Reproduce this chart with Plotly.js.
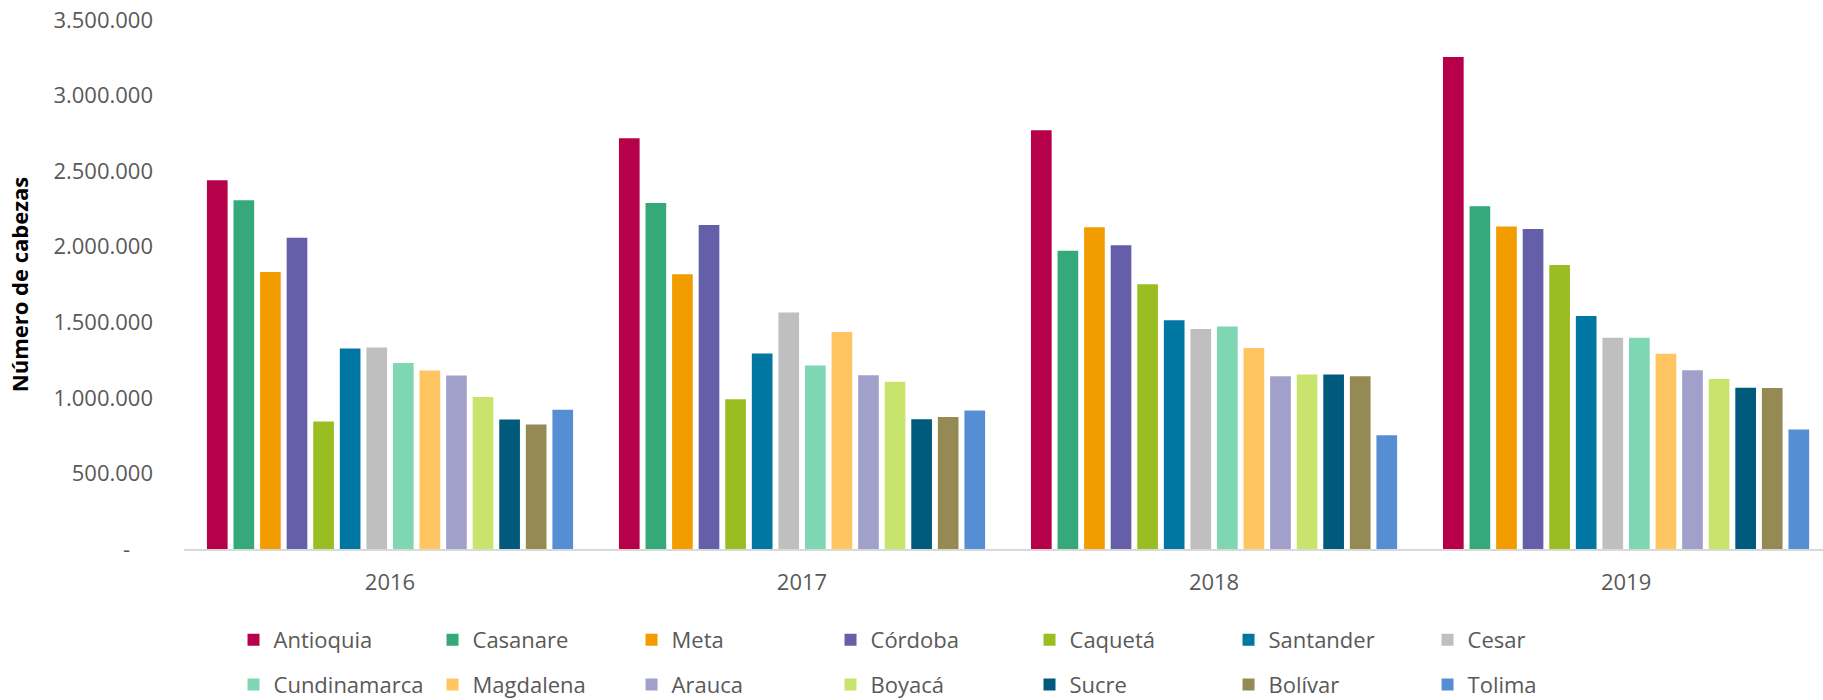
<!DOCTYPE html>
<html>
<head>
<meta charset="utf-8">
<script src="https://cdn.plot.ly/plotly-3.0.1.min.js"></script>
<style>html,body{margin:0;padding:0;background:#fff;}#chart{width:1823px;height:700px;}</style>
</head>
<body>
<div id="chart"></div>
<script>
const years = ['2016', '2017', '2018', '2019'];
const departments = ['Antioquia', 'Casanare', 'Meta', 'Córdoba', 'Caquetá', 'Santander', 'Cesar',
  'Cundinamarca', 'Magdalena', 'Arauca', 'Boyacá', 'Sucre', 'Bolívar', 'Tolima'];
const colors = ['#B7004A', '#36A97A', '#F29C00', '#645FA8', '#9ABE22', '#0077A3', '#BFBFBF',
  '#7ED6B2', '#FFC561', '#A1A0CA', '#C9E46C', '#005A7C', '#958A54', '#568ED4'];

const antioquia    = [2439000, 2718000, 2771000, 3255000];
const casanare     = [2307000, 2289000, 1974000, 2268000];
const meta         = [1833000, 1818000, 2128000, 2134000];
const cordoba      = [2060000, 2143000, 2009000, 2118000];
const caqueta      = [844000, 991000, 1751000, 1879000];
const santander    = [1327000, 1293000, 1514000, 1541000];
const cesar        = [1333000, 1564000, 1456000, 1397000];
const cundinamarca = [1231000, 1214000, 1472000, 1397000];
const magdalena    = [1181000, 1436000, 1330000, 1291000];
const arauca       = [1148000, 1150000, 1143000, 1182000];
const boyaca       = [1005000, 1106000, 1155000, 1124000];
const sucre        = [857000, 859000, 1155000, 1067000];
const bolivar      = [824000, 874000, 1143000, 1065000];
const tolima       = [921000, 917000, 753000, 790000];

const seriesValues = [antioquia, casanare, meta, cordoba, caqueta, santander, cesar,
  cundinamarca, magdalena, arauca, boyaca, sucre, bolivar, tolima];

const yTickVals = [0, 500000, 1000000, 1500000, 2000000, 2500000, 3000000, 3500000];
const yTickText = ['-\u00a0\u00a0\u00a0\u00a0', '500.000', '1.000.000', '1.500.000', '2.000.000',
  '2.500.000', '3.000.000', '3.500.000'];

const FONT = '"Open Sans", "Noto Sans", sans-serif';

const traces = departments.map((name, i) => ({
  type: 'bar',
  name: name,
  x: years,
  y: seriesValues[i],
  marker: {color: colors[i], line: {width: 0}},
  legend: i < 7 ? 'legend' : 'legend2',
  hoverinfo: 'x+y+name'
}));

const legendCommon = {
  orientation: 'h',
  xref: 'container',
  yref: 'container',
  xanchor: 'left',
  yanchor: 'middle',
  x: 0.1281,
  entrywidth: 154,
  entrywidthmode: 'pixels',
  font: {family: FONT, size: 22, color: '#595959'},
  bgcolor: 'rgba(0,0,0,0)',
  borderwidth: 0,
  traceorder: 'normal'
};

const layout = {
  width: 1823,
  height: 700,
  margin: {l: 184, r: 0, t: 19.5, b: 151, pad: 0},
  paper_bgcolor: '#ffffff',
  plot_bgcolor: '#ffffff',
  barmode: 'group',
  bargap: 0.097,
  bargroupgap: 0.222,
  showlegend: true,
  font: {family: FONT, color: '#595959'},
  xaxis: {
    type: 'category',
    range: [-0.5, 3.478],
    showgrid: false,
    zeroline: false,
    showline: true,
    linecolor: '#D9D9D9',
    linewidth: 2,
    ticks: '',
    ticklabelstandoff: 13,
    tickfont: {family: FONT, size: 22, color: '#595959'},
    fixedrange: true
  },
  yaxis: {
    range: [0, 3500000],
    showgrid: false,
    zeroline: false,
    showline: false,
    ticks: '',
    tickmode: 'array',
    tickvals: yTickVals,
    ticktext: yTickText,
    ticklabelstandoff: 30,
    tickfont: {family: FONT, size: 22, color: '#595959'},
    title: {
      text: 'Número de cabezas',
      font: {family: FONT, size: 22, color: '#000000', weight: 'bold'},
      standoff: 18
    },
    fixedrange: true
  },
  legend: Object.assign({}, legendCommon, {y: 0.0857}),
  legend2: Object.assign({}, legendCommon, {y: 0.0218})
};

Plotly.newPlot('chart', traces, layout, {displayModeBar: false, staticPlot: true});
</script>
</body>
</html>
